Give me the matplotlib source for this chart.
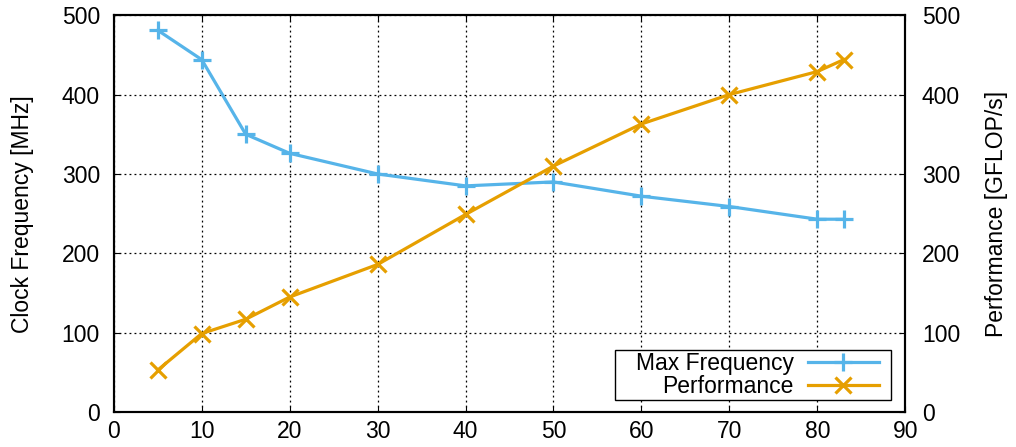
import matplotlib.pyplot as plt
from matplotlib.path import Path

plt.rcParams['font.family'] = ['Liberation Sans', 'DejaVu Sans']

# data
x = [5, 10, 15, 20, 30, 40, 50, 60, 70, 80, 83]
max_freq = [481, 444, 350, 326, 300, 285, 290, 272, 259, 243, 243]
perf = [53, 99, 117, 145, 186, 249, 310, 363, 400, 429, 444]

blue = '#56B4E9'
orange = '#E69F00'
fs = 16.5

fig = plt.figure(figsize=(10.16, 4.47), dpi=100)
ax = fig.add_axes([0.112, 0.078, 0.779, 0.888])

l1, = ax.plot(x, max_freq, color=blue, lw=2.3, marker='+', ms=13, mew=2.3)
l2, = ax.plot(x, perf, color=orange, lw=2.3, marker='x', ms=11, mew=2.3)

ax.set_xlim(0, 90)
ax.set_ylim(0, 500)
ax.set_xticks(range(0, 91, 10))
ax.set_yticks(range(0, 501, 100))
ax.grid(True, color='black', ls=(0, (1.5, 2.5)), lw=0.9)
ax.tick_params(direction='in', top=True, labelsize=fs, length=4, pad=10)
ax.tick_params(axis='x', pad=6)
ax.set_ylabel('Clock Frequency [MHz]', fontsize=fs, labelpad=20)

ax2 = ax.twinx()
ax2.set_ylim(0, 500)
ax2.set_yticks(range(0, 501, 100))
ax2.tick_params(direction='in', labelsize=fs, length=4, pad=12)
ax2.set_ylabel('Performance [GFLOP/s]', fontsize=fs, labelpad=18)

for a in (ax, ax2):
    for s in a.spines.values():
        s.set_linewidth(1.5)


# gnuplot-like key box: more room left of the text and right of the samples
def key_box(x0, y0, width, height, mutation_size):
    xa, xb = x0 - 20, x0 + width + 11
    ya, yb = y0 - 1, y0 + height + 1
    return Path([(xa, ya), (xb, ya), (xb, yb), (xa, yb), (xa, ya)], closed=True)


leg = ax.legend([l1, l2], ['Max Frequency', 'Performance'], loc='lower right',
                bbox_to_anchor=(0.968, 0.033), fontsize=fs, fancybox=False,
                framealpha=1, edgecolor='black', markerfirst=False,
                handlelength=3.1, borderpad=0.05, labelspacing=0.0,
                borderaxespad=0.0, handletextpad=0.6)
leg.get_frame().set_linewidth(1.0)
leg.get_frame().set_boxstyle(key_box)
for t in leg.get_texts():
    t.set_ha('right')
leg._legend_box.align = 'right'

fig.savefig('out.png', dpi=100)
